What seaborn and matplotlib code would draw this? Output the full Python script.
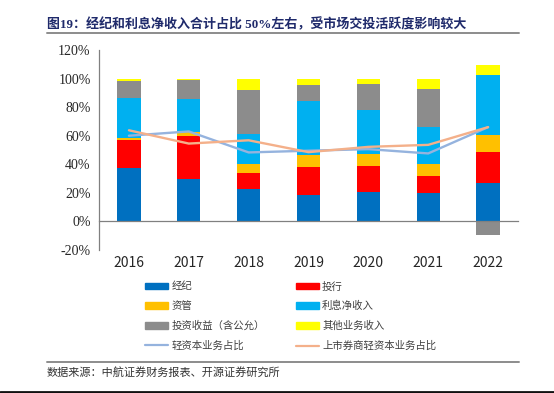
import numpy as np
import matplotlib
matplotlib.use("Agg")
import matplotlib.pyplot as plt
from matplotlib.patches import Patch
from matplotlib.lines import Line2D
import seaborn as sns

sns.set_style("white")
plt.rcParams['font.family'] = ['Noto Sans CJK SC', 'DejaVu Sans']

years = ["2016", "2017", "2018", "2019", "2020", "2021", "2022"]
# shares of revenue, %
jingji = [37.4, 29.7, 22.7, 18.6, 20.4, 19.7, 26.7]
touhang = [19.8, 30.2, 10.9, 19.7, 18.1, 12.3, 22.0]
ziguan = [1.2, 2.7, 6.5, 8.3, 8.6, 8.1, 11.9]
lixi = [27.8, 23.4, 20.9, 37.6, 30.9, 26.3, 42.2]
touzi = [12.0, 12.8, 30.9, 11.6, 18.3, 26.0, -9.7]
qita = [1.8, 0.7, 8.1, 4.2, 3.5, 7.5, 6.5]
qingziben = [60.0, 63.0, 48.3, 49.5, 50.6, 47.6, 66.0]
shangshi = [63.8, 54.5, 56.8, 48.5, 52.2, 53.6, 66.0]

series = [
    ("经纪", jingji, "#0070C0"),
    ("投行", touhang, "#FF0000"),
    ("资管", ziguan, "#FFC000"),
    ("利息净收入", lixi, "#00B0F0"),
    ("投资收益（含公允）", touzi, "#8C8C8C"),
    ("其他业务收入", qita, "#FFFF00"),
]
line_blue = "#95B3DE"
line_orange = "#F4B08A"
serif = ["Liberation Serif", "Noto Sans CJK SC"]

fig = plt.figure(figsize=(5.54, 3.93), dpi=100)
ax = fig.add_axes([99 / 554, 1 - 250 / 393, 419 / 554, 200 / 393])

pos = np.zeros(len(years))
neg = np.zeros(len(years))
for name, vals, col in series:
    vals = np.array(vals, dtype=float)
    bottom = np.where(vals >= 0, pos, neg)
    sns.barplot(x=years, y=vals, bottom=bottom, color=col, width=0.39,
                saturation=1, ax=ax, linewidth=0)
    pos = pos + np.where(vals >= 0, vals, 0)
    neg = neg + np.where(vals < 0, vals, 0)

xs = np.arange(len(years))
sns.lineplot(x=xs, y=qingziben, color=line_blue, linewidth=1.7, ax=ax)
sns.lineplot(x=xs, y=shangshi, color=line_orange, linewidth=1.7, ax=ax)

ax.set_xlim(-0.5, 6.5)
ax.set_ylim(-20, 120)
ax.set_yticks(np.arange(-20, 121, 20))
ax.set_yticklabels([f"{v}%" for v in range(-20, 121, 20)])
ax.set_xticks(xs)
ax.set_xticklabels(years)
ax.set_xticks(np.arange(0.5, 7, 1), minor=True)
ax.tick_params(axis="x", which="major", length=0, pad=25)
ax.tick_params(axis="x", which="minor", length=3, direction="out",
               color="#808080", width=0.8)
ax.tick_params(axis="y", length=3, direction="out", color="#808080",
               width=0.8, pad=3)
for lbl in ax.get_xticklabels() + ax.get_yticklabels():
    lbl.set_fontfamily(serif)
    lbl.set_fontsize(10)
    lbl.set_color("#262626")
ax.set_xlabel("")
ax.set_ylabel("")
for s in ["top", "right"]:
    ax.spines[s].set_visible(False)
ax.spines["bottom"].set_position(("data", 0))
for s in ["bottom", "left"]:
    ax.spines[s].set_color("#808080")
    ax.spines[s].set_linewidth(0.9)

handles = [
    Patch(color=series[0][2], label=series[0][0]),
    Patch(color=series[2][2], label=series[2][0]),
    Patch(color=series[4][2], label=series[4][0]),
    Line2D([], [], color=line_blue, lw=1.6, label="轻资本业务占比"),
    Patch(color=series[1][2], label=series[1][0]),
    Patch(color=series[3][2], label=series[3][0]),
    Patch(color=series[5][2], label=series[5][0]),
    Line2D([], [], color=line_orange, lw=1.6, label="上市券商轻资本业务占比"),
]
fig.legend(handles=handles, ncol=2, loc="upper left",
           bbox_to_anchor=(136 / 554, 1 - 272 / 393), frameon=False,
           fontsize=7.5, handlelength=2.2, handleheight=0.57,
           handletextpad=0.3, labelspacing=0.92, columnspacing=3.0,
           labelcolor="#404040")

fig.text(47 / 554, 1 - 24.5 / 393,
         "图19：经纪和利息净收入合计占比 50%左右，受市场交投活跃度影响较大",
         fontsize=9.35, fontweight="bold", color="#1F2A6B", va="center",
         family=serif)
fig.add_artist(Line2D([47 / 554, 519 / 554], [1 - 33.3 / 393] * 2,
                      color="#8C8C8C", lw=1.4))
fig.add_artist(Line2D([47 / 554, 519 / 554], [1 - 361.7 / 393] * 2,
                      color="#8C8C8C", lw=1.4))
fig.add_artist(Line2D([0, 1], [1 - 391.7 / 393] * 2, color="#111111", lw=2))
fig.text(47 / 554, 1 - 372.5 / 393,
         "数据来源：中航证券财务报表、开源证券研究所",
         fontsize=8, color="#333333", va="center")

fig.savefig("out.png", dpi=100)
